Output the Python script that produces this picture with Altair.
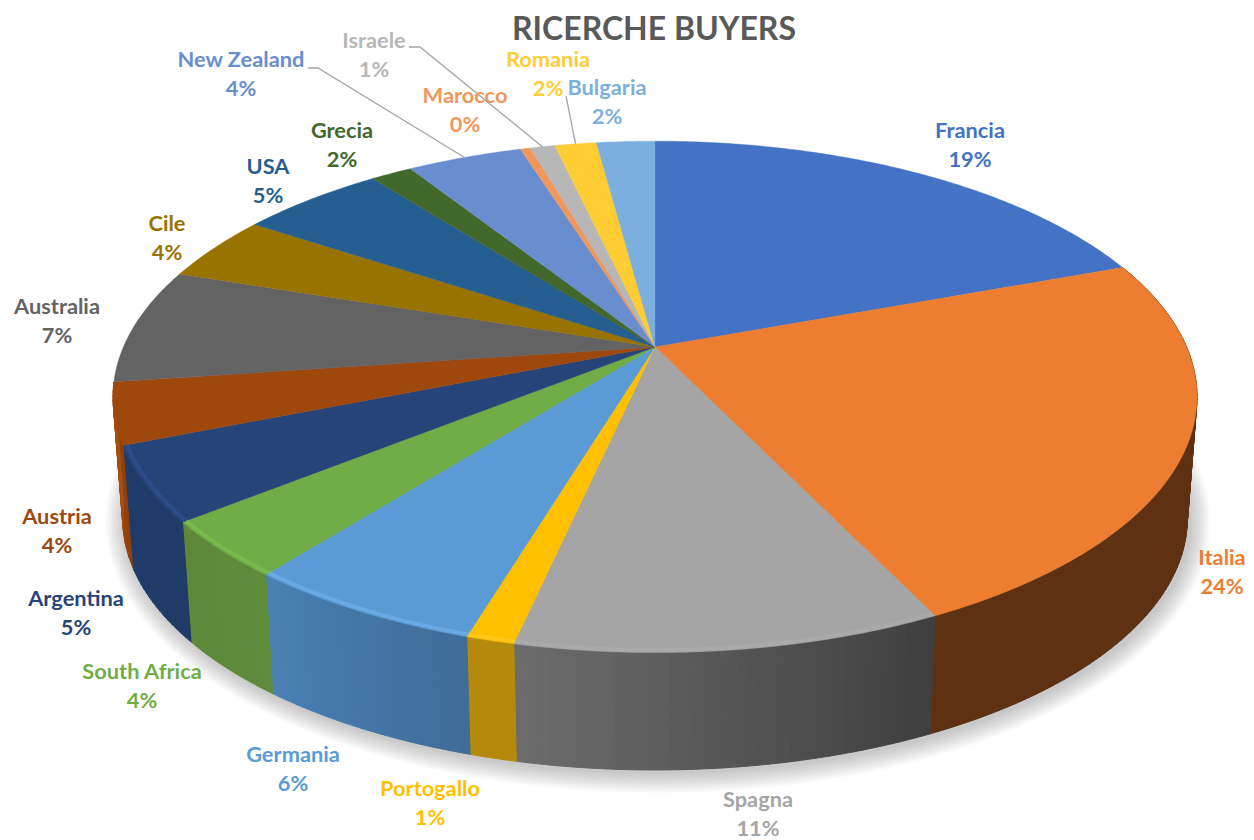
import numpy as np
import pandas as pd
import altair as alt

# ---- data -----------------------------------------------------------------
names = ["Francia", "Italia", "Spagna", "Portogallo", "Germania", "South Africa",
         "Argentina", "Austria", "Australia", "Cile", "USA", "Grecia",
         "New Zealand", "Marocco", "Israele", "Romania", "Bulgaria"]
shares = [19.4, 23.45, 10.6, 1.2, 6.0, 3.6, 4.7, 3.85, 7.3, 4.2, 5.2, 1.5, 4.15, 0.35, 0.9, 1.5, 2.1]
pct_labels = ["19%", "24%", "11%", "1%", "6%", "4%", "5%", "4%", "7%", "4%", "5%", "2%",
              "4%", "0%", "1%", "2%", "2%"]
top_colors = ["#4472c4", "#ed7d31", "#a5a5a5", "#ffc000", "#5b9bd5", "#70ad47", "#264478",
              "#9e480e", "#636363", "#997300", "#255e91", "#43682b", "#698ed0", "#f1975a",
              "#b7b7b7", "#ffcd33", "#7cafdd"]

# ---- styling / layout --------------------------------------------------------
text_colors = dict(zip(names, top_colors))
wall_colors = {  # start, end along the clockwise sweep
    "Italia": ("#5f3113", "#5f3113"),
    "Spagna": ("#3f3f3f", "#6c6c6c"),
    "Portogallo": ("#b58a0c", "#b58a0c"),
    "Germania": ("#3f6c98", "#4a80b4"),
    "South Africa": ("#5f8c3a", "#5c8838"),
    "Argentina": ("#1f3c69", "#1f3c69"),
    "Austria": ("#8f400c", "#a8500f"),
}
rim_colors = {"Portogallo": "#ffcb20", "Germania": "#6fb0ec", "South Africa": "#7cc04e",
              "Argentina": "#2d5290", "Spagna": "#adadad"}
label_pos = {"Francia": (970, 131), "Italia": (1222, 558), "Spagna": (758, 800),
             "Portogallo": (430, 789), "Germania": (293, 755), "South Africa": (142, 672),
             "Argentina": (76, 599), "Austria": (57, 517), "Australia": (57, 307),
             "Cile": (167, 224), "USA": (268, 167), "Grecia": (342, 131),
             "New Zealand": (241, 60), "Marocco": (465, 96), "Israele": (374, 41),
             "Romania": (548, 60), "Bulgaria": (607, 88)}
leaders = {"New Zealand": (308, 68, 318), "Israele": (409, 47, 420), "Romania": (566, 96, 566)}

W, H = 1238, 832
CX, CY_TOP, K, A, B = 655.0, 347.0, -0.195, 246.0, 531.6  # perspective of the pie's top
DEPTH, SHRINK = 117.0, 0.982


def top_xy(theta, r=1.0):
    u, v = r * np.sin(theta), -r * np.cos(theta)
    d = 1 + K * v
    return CX + B * u / d, CY_TOP + A * v / d


def bottom_xy(theta):
    x, y = top_xy(theta)
    return CX + (x - CX) * SHRINK, 397 + (y - 397) * SHRINK + DEPTH + 5


def mix(c1, c2, t):
    a = [int(c1[i:i + 2], 16) for i in (1, 3, 5)]
    b = [int(c2[i:i + 2], 16) for i in (1, 3, 5)]
    return "#%02x%02x%02x" % tuple(int(round(p + (q - p) * t)) for p, q in zip(a, b))


fr = np.array(shares) / sum(shares)
edges = np.concatenate([[0], np.cumsum(fr)]) * 2 * np.pi

shadow_rows, wall_rows, top_rows, rim_rows = [], [], [], []


def add(rows, pid, xs, ys, color):
    for j, (x, y) in enumerate(zip(xs, ys)):
        rows.append({"pid": pid, "o": j, "x": float(x), "y": float(y), "c": color})


full = np.linspace(0, 2 * np.pi, 181)
for i, d in enumerate(np.linspace(20, 1, 12)):
    x, y = bottom_xy(full)
    add(shadow_rows, f"s{i}", CX + 3 + (x - CX) * (1 + d / 532), 519 + 6 + (y - 522) * (1 + d / 251), "#707070")

for i, n in enumerate(names):
    t0, t1 = edges[i], edges[i + 1]
    th = np.linspace(t0, t1, max(4, int((t1 - t0) * 90)))
    x, y = top_xy(th)
    add(top_rows, f"t{i}", np.r_[CX, x, CX], np.r_[CY_TOP, y, CY_TOP], top_colors[i])
    if n in wall_colors:
        c0, c1 = wall_colors[n]
        st = max(2, int((t1 - t0) * 60))
        cuts = np.linspace(t0, t1, st + 1)
        for k in range(st):
            a = np.linspace(cuts[k], cuts[k + 1], 5)
            tx, ty = top_xy(a)
            bx, by = bottom_xy(a[::-1])
            add(wall_rows, f"w{i}_{k}", np.r_[tx, bx, tx[0]], np.r_[ty, by, ty[0]], mix(c0, c1, k / max(st - 1, 1)))
    if n in rim_colors:
        rx, ry = top_xy(th, 0.993)
        add(rim_rows, f"r{i}", rx, ry, rim_colors[n])

label_rows = []
for n, p in zip(names, pct_labels):
    lx, ly = label_pos[n]
    label_rows.append({"x": lx, "y": ly, "t": n, "c": text_colors[n]})
    label_rows.append({"x": lx, "y": ly + 28.5, "t": p, "c": text_colors[n]})

leader_rows = []
for n, (x0, y0, x1) in leaders.items():
    i = names.index(n)
    ex, ey = top_xy((edges[i] + edges[i + 1]) / 2, 1.0)
    add(leader_rows, n, [x0, x1, ex], [y0, y0, ey], "#a6a6a6")

xs = alt.X("x:Q", axis=None, scale=alt.Scale(domain=[8, 8 + W], nice=False, zero=False))
ys = alt.Y("y:Q", axis=None, scale=alt.Scale(domain=[8 + H, 8], nice=False, zero=False))


def poly(rows, **kw):
    return alt.Chart(pd.DataFrame(rows)).mark_line(interpolate="linear", **kw).encode(
        x=xs, y=ys, detail="pid:N", order="o:Q",
        fill=alt.Fill("c:N", scale=None),
        stroke=alt.Stroke("c:N", scale=None),
    )


shadow = alt.Chart(pd.DataFrame(shadow_rows)).mark_line(opacity=0.035, strokeWidth=0).encode(
    x=xs, y=ys, detail="pid:N", order="o:Q", fill=alt.Fill("c:N", scale=None))
walls = poly(wall_rows, strokeWidth=1)
tops = poly(top_rows, strokeWidth=0.4)
rims = alt.Chart(pd.DataFrame(rim_rows)).mark_line(strokeWidth=3.5, opacity=0.7).encode(
    x=xs, y=ys, detail="pid:N", order="o:Q", stroke=alt.Stroke("c:N", scale=None))
lead = alt.Chart(pd.DataFrame(leader_rows)).mark_line(strokeWidth=1.3).encode(
    x=xs, y=ys, detail="pid:N", order="o:Q", stroke=alt.Stroke("c:N", scale=None))
labels = alt.Chart(pd.DataFrame(label_rows)).mark_text(
    font="Lato", fontWeight="bold", fontSize=21.8, align="center", baseline="middle"
).encode(x=xs, y=ys, text="t:N", color=alt.Color("c:N", scale=None))
title = alt.Chart(pd.DataFrame([{"x": 654, "y": 30, "t": "RICERCHE BUYERS"}])).mark_text(
    font="Lato", fontWeight="bold", fontSize=32, align="center", baseline="middle", color="#595959"
).encode(x=xs, y=ys, text="t:N")

chart = alt.layer(shadow, walls, tops, rims, lead, labels, title).properties(
    width=W, height=H, padding=0, background="white",
    autosize=alt.AutoSizeParams(type="none"),
).configure_view(stroke=None)

chart.save("out.html", embed_options={"renderer": "svg", "actions": False})
